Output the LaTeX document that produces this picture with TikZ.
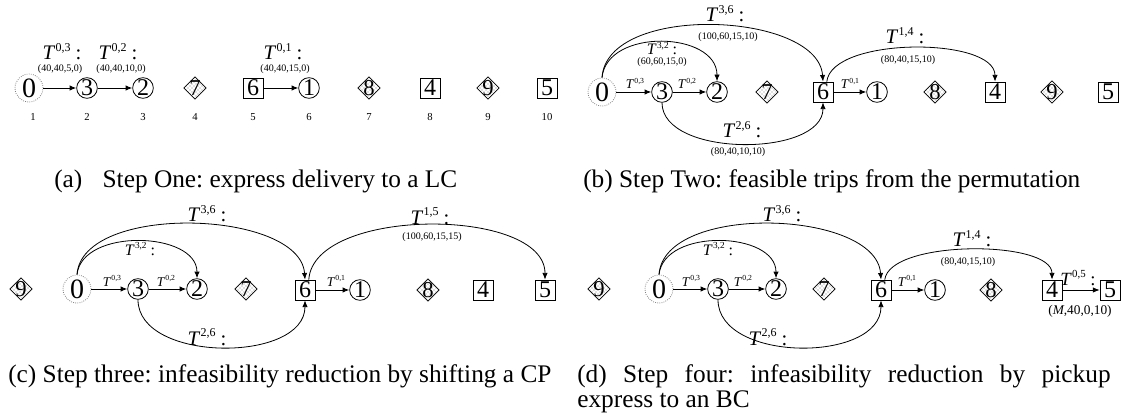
\documentclass[tikz,border=0pt]{standalone}
\usepackage{fontspec}
\setmainfont{Liberation Serif}
\usepackage{graphicx}
\usepackage{tikz}
\usetikzlibrary{shapes.geometric, patterns, arrows.meta, positioning}
\frenchspacing

\newcommand{\trip}[1]{\textit{T}\kern0.2pt\raisebox{0.9ex}{\scalebox{0.58}{#1}}}

\tikzset{
  cir/.style={circle, draw, line width=0.6pt, inner sep=0pt, minimum size=15.5pt, font=\fontsize{18}{18}\selectfont},
  org/.style={circle, draw=gray, densely dotted, line width=0.6pt, inner sep=0pt, minimum size=21pt, font=\fontsize{21}{21}\selectfont},
  sq/.style={rectangle, draw, line width=0.6pt, inner sep=0pt, minimum size=15pt, font=\fontsize{18}{18}\selectfont},
  dia/.style={diamond, draw, line width=0.5pt, pattern=crosshatch dots, pattern color=gray, inner sep=-2pt, minimum size=17pt, font=\fontsize{17}{17}\selectfont},
  arr/.style={-{Latex[length=5pt,width=4pt]}, line width=0.6pt},
  tbig/.style={font=\fontsize{15.5}{15.5}\selectfont, inner sep=0pt, anchor=base},
  tmid/.style={font=\fontsize{12}{12}\selectfont, inner sep=0pt, anchor=base},
  tsml/.style={font=\fontsize{10}{10}\selectfont, inner sep=0pt, anchor=base},
  tup/.style={font=\fontsize{7.5}{7.5}\selectfont, inner sep=0pt},
  idx/.style={font=\fontsize{8}{8}\selectfont, inner sep=0pt},
  captxt/.style={font=\fontsize{19}{19}\selectfont, inner sep=0pt, anchor=base west}
}

\begin{document}
\begin{tikzpicture}[x=0.75pt, y=-0.75pt]
\useasboundingbox (0,0) rectangle (1123,420);

% (a) step one
\node[org] (a0) at (29,88) {0};
\node[cir] (a3) at (87,88) {3};
\node[cir] (a2) at (143,88) {2};
\node[dia] (a7) at (195,88) {7};
\node[sq]  (a6) at (253,88) {6};
\node[cir] (a1) at (309,88) {1};
\node[dia] (a8) at (369,88) {8};
\node[sq]  (a4) at (430,88) {4};
\node[dia] (a9) at (488,88) {9};
\node[sq]  (a5) at (547,88) {5};
\foreach \k/\x in {1/33,2/87,3/143,4/195,5/253,6/309,7/369,8/430,9/488,10/547}
  \node[idx] (ai\k) at (\x,117) {\k};
\draw[arr] (a0) -- (a3);
\draw[arr] (a3) -- (a2);
\draw[arr] (a6) -- (a1);
\node[tbig] (at03) at (62,60) {\trip{0,3} :};
\node[tup]  (ac03) at (60,69) {(40,40,5,0)};
\node[tbig] (at02) at (118,60) {\trip{0,2} :};
\node[tup]  (ac02) at (121,69) {(40,40,10,0)};
\node[tbig] (at01) at (283,60) {\trip{0,1} :};
\node[tup]  (ac01) at (285,69) {(40,40,15,0)};
\node[captxt] (capa) at (54,188) {(a)\hspace{0.8em}Step One: express delivery to a LC};

% (b) step two
\node[org] (b0) at (602,92) {0};
\node[cir] (b3) at (662,92) {3};
\node[cir] (b2) at (717,92) {2};
\node[dia] (b7) at (767,92) {7};
\node[sq]  (b6) at (823,92) {6};
\node[cir] (b1) at (877,92) {1};
\node[dia] (b8) at (935,92) {8};
\node[sq]  (b4) at (995,92) {4};
\node[dia] (b9) at (1052,92) {9};
\node[sq]  (b5) at (1108,92) {5};
\draw[arr] (b0) -- (b3);
\draw[arr] (b3) -- (b2);
\draw[arr] (b6) -- (b1);
\draw[arr] (b0.north) .. controls +(5,-75) and +(-5,-70) .. (b6.north);
\draw[arr] (b0.north) .. controls +(5,-50) and +(0,-50) .. (b2.north);
\draw[arr] (b3.south) .. controls +(0,55) and +(0,55) .. (b6.south);
\draw[arr] (b6.70) .. controls +(5,-45) and +(0,-45) .. (b4.north);
\node[tsml] (bt03) at (635,89) {\trip{0,3}};
\node[tsml] (bt02) at (687,89) {\trip{0,2}};
\node[tsml] (bt01) at (850,89) {\trip{0,1}};
\node[tbig] (bt36) at (725,22) {\trip{3,6} :};
\node[tup]  (bc36) at (728,37) {(100,60,15,10)};
\node[tmid] (bt32) at (662,55) {\trip{3,2} :};
\node[tup]  (bc32) at (662,62) {(60,60,15,0)};
\node[tbig] (bt26) at (742,138) {\trip{2,6} :};
\node[tup]  (bc26) at (738,152) {(80,40,10,10)};
\node[tbig] (bt14) at (905,44) {\trip{1,4} :};
\node[tup]  (bc14) at (908,60) {(80,40,15,10)};
\node[captxt] (capb) at (583,188) {(b) Step Two: feasible trips from the permutation};

% (c) step three
\node[dia] (c9) at (21,289) {9};
\node[org] (c0) at (77,289) {0};
\node[cir] (c3) at (138,289) {3};
\node[cir] (c2) at (197,289) {2};
\node[dia] (c7) at (246,289) {7};
\node[sq]  (c6) at (305,290) {6};
\node[cir] (c1) at (360,290) {1};
\node[dia] (c8) at (428,290) {8};
\node[sq]  (c4) at (483,290) {4};
\node[sq]  (c5) at (545,290) {5};
\draw[arr] (c0) -- (c3);
\draw[arr] (c3) -- (c2);
\draw[arr] (c6) -- (c1);
\draw[arr] (c0.north) .. controls +(5,-72) and +(-5,-70) .. (c6.north);
\draw[arr] (c0.north) .. controls +(5,-47) and +(0,-47) .. (c2.north);
\draw[arr] (c3.south) .. controls +(0,63) and +(0,63) .. (c6.south);
\draw[arr] (c6.70) .. controls +(5,-73) and +(0,-73) .. (c5.north);
\node[tsml] (ct03) at (112,286) {\trip{0,3}};
\node[tsml] (ct02) at (166,286) {\trip{0,2}};
\node[tsml] (ct01) at (336,286) {\trip{0,1}};
\node[tbig] (ct36) at (207,222) {\trip{3,6} :};
\node[tmid] (ct32) at (140,255) {\trip{3,2} :};
\node[tbig] (ct26) at (207,345) {\trip{2,6} :};
\node[tbig] (ct15) at (430,224) {\trip{1,5} :};
\node[tup]  (cc15) at (432,237) {(100,60,15,15)};
\node[captxt] (capc) at (8,382) {(c) Step three: infeasibility reduction by shifting a CP};

% (d) step four
\node[dia] (d9) at (599,289) {9};
\node[org] (d0) at (659,289) {0};
\node[cir] (d3) at (718,289) {3};
\node[cir] (d2) at (776,289) {2};
\node[dia] (d7) at (824,289) {7};
\node[sq]  (d6) at (881,290) {6};
\node[cir] (d1) at (935,290) {1};
\node[dia] (d8) at (991,290) {8};
\node[sq]  (d4) at (1052,290) {4};
\node[sq]  (d5) at (1110,290) {5};
\draw[arr] (d0) -- (d3);
\draw[arr] (d3) -- (d2);
\draw[arr] (d6) -- (d1);
\draw[arr] (d4) -- (d5);
\draw[arr] (d0.north) .. controls +(5,-72) and +(-5,-70) .. (d6.north);
\draw[arr] (d0.north) .. controls +(5,-47) and +(0,-47) .. (d2.north);
\draw[arr] (d3.south) .. controls +(0,63) and +(0,63) .. (d6.south);
\draw[arr] (d6.70) .. controls +(5,-40) and +(0,-40) .. (d4.north);
\node[tsml] (dt03) at (691,286) {\trip{0,3}};
\node[tsml] (dt02) at (743,286) {\trip{0,2}};
\node[tsml] (dt01) at (907,286) {\trip{0,1}};
\node[tbig] (dt36) at (782,222) {\trip{3,6} :};
\node[tmid] (dt32) at (718,255) {\trip{3,2} :};
\node[tbig] (dt26) at (768,345) {\trip{2,6} :};
\node[tbig] (dt14) at (972,247) {\trip{1,4} :};
\node[tup]  (dc14) at (968,262) {(80,40,15,10)};
\node[tbig, font=\fontsize{14}{14}\selectfont] (dt05) at (1078,285) {\trip{0,5} :};
\node[font=\fontsize{10}{10}\selectfont, inner sep=0pt] (dc05) at (1080,311) {(\textit{M},40,0,10)};
\node[captxt] (capd) at (577,382)
  {\parbox[t]{400pt}{(d) Step four: infeasibility reduction by pickup\linebreak express to an BC}};
\end{tikzpicture}
\end{document}
